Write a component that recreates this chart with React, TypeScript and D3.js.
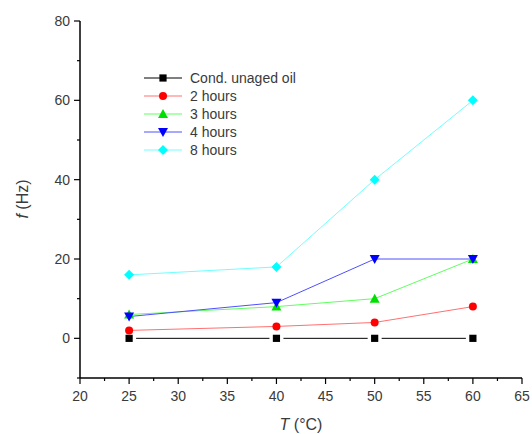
import React from "react";
import * as d3 from "d3";

const temps = [25, 40, 50, 60];
const seriesNames = ["Cond. unaged oil", "2 hours", "3 hours", "4 hours", "8 hours"];
const condValues = [0, 0, 0, 0];
const h2Values = [2, 3, 4, 8];
const h3Values = [6, 8, 10, 20];
const h4Values = [5.5, 9, 20, 20];
const h8Values = [16, 18, 40, 60];
const xTicks = [20, 25, 30, 35, 40, 45, 50, 55, 60, 65];
const yTicks = [0, 20, 40, 60, 80];

const colors = ["#000000", "#ff0000", "#00e000", "#0000ff", "#00ffff"];
const lineColors = ["#000000", "#ff7070", "#60ff60", "#5050ff", "#70ffff"];
const shapes = ["square", "circle", "triangle", "down", "diamond"];

function Marker({ shape, x, y, color }: { shape: string; x: number; y: number; color: string }) {
  const s = 3.6;
  if (shape === "square") return <rect x={x - s} y={y - s} width={2 * s} height={2 * s} fill={color} />;
  if (shape === "circle") return <circle cx={x} cy={y} r={4} fill={color} />;
  if (shape === "triangle")
    return <path d={`M${x},${y - 5} L${x + 5},${y + 4} L${x - 5},${y + 4}Z`} fill={color} />;
  if (shape === "down")
    return <path d={`M${x},${y + 5} L${x + 5},${y - 4} L${x - 5},${y - 4}Z`} fill={color} />;
  return <path d={`M${x},${y - 5} L${x + 5},${y} L${x},${y + 5} L${x - 5},${y}Z`} fill={color} />;
}

export default function App() {
  const W = 532, H = 434;
  const x = d3.scaleLinear().domain([20, 65]).range([80, 522]);
  const y = d3.scaleLinear().domain([-10, 80]).range([378, 21]);
  const all = [condValues, h2Values, h3Values, h4Values, h8Values];
  const line = d3.line<number>().x((_, i) => x(temps[i])).y((v) => y(v));
  const xMinor = d3.range(22.5, 65, 5);
  const yMinor = [-10, 10, 30, 50, 70];
  const font = "Arial, 'Liberation Sans', sans-serif";
  const textColor = "#3a3a3a";

  return (
    <svg width={W} height={H} style={{ position: "absolute", left: 0, top: 0 }} fontFamily={font}>
      <rect width={W} height={H} fill="#fff" />
      {all.map((vals, si) => {
        if (si === 0) {
          // short segments with gaps around each square
          return (
            <g key={si}>
              {vals.slice(1).map((v, i) => (
                <line
                  key={i}
                  x1={x(temps[i]) + 7}
                  x2={x(temps[i + 1]) - 7}
                  y1={y(vals[i])}
                  y2={y(v)}
                  stroke={lineColors[si]}
                  strokeWidth={1}
                />
              ))}
            </g>
          );
        }
        return <path key={si} d={line(vals) || ""} fill="none" stroke={lineColors[si]} strokeWidth={1} />;
      })}
      {all.map((vals, si) => (
        <g key={"m" + si}>
          {vals.map((v, i) => (
            <Marker key={i} shape={shapes[si]} x={x(temps[i])} y={y(v)} color={colors[si]} />
          ))}
        </g>
      ))}
      {/* axes */}
      <line x1={80} x2={80} y1={21} y2={378} stroke="#000" strokeWidth={1.5} />
      <line x1={80} x2={522} y1={378} y2={378} stroke="#000" strokeWidth={1.5} />
      {yTicks.map((t) => (
        <g key={t}>
          <line x1={74} x2={80} y1={y(t)} y2={y(t)} stroke="#000" strokeWidth={1.2} />
          <text x={70} y={y(t)} dy="0.35em" textAnchor="end" fontSize={14} fill={textColor}>
            {t}
          </text>
        </g>
      ))}
      {yMinor.map((t) => (
        <line key={t} x1={77} x2={80} y1={y(t)} y2={y(t)} stroke="#000" strokeWidth={1.2} />
      ))}
      {xTicks.map((t) => (
        <g key={t}>
          <line x1={x(t)} x2={x(t)} y1={378} y2={384} stroke="#000" strokeWidth={1.2} />
          <text x={x(t)} y={401} textAnchor="middle" fontSize={14} fill={textColor}>
            {t}
          </text>
        </g>
      ))}
      {xMinor.map((t) => (
        <line key={t} x1={x(t)} x2={x(t)} y1={378} y2={381} stroke="#000" strokeWidth={1.2} />
      ))}
      <text x={301} y={430} textAnchor="middle" fontSize={16} fill={textColor}>
        <tspan fontStyle="italic">T</tspan> (°C)
      </text>
      <text transform="translate(28,199) rotate(-90)" textAnchor="middle" fontSize={16} fill={textColor}>
        <tspan fontStyle="italic">f</tspan> (Hz)
      </text>
      {/* legend */}
      {seriesNames.map((n, i) => {
        const ly = 78 + i * 18;
        return (
          <g key={n}>
            <line x1={144} x2={182} y1={ly} y2={ly} stroke={lineColors[i]} strokeWidth={1} />
            <Marker shape={shapes[i]} x={163} y={ly} color={colors[i]} />
            <text x={190} y={ly} dy="0.35em" fontSize={14} fill={textColor}>
              {n}
            </text>
          </g>
        );
      })}
    </svg>
  );
}
